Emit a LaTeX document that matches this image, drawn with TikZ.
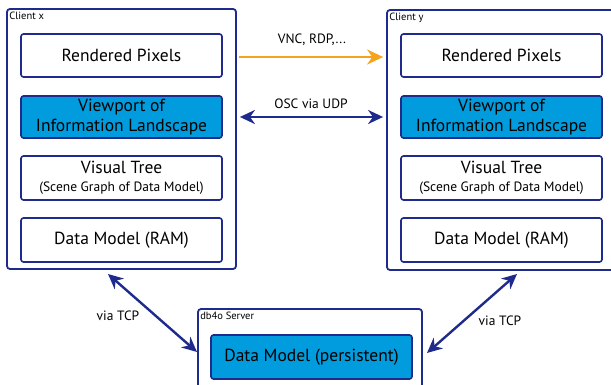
\documentclass[tikz,border=0pt]{standalone}
\usepackage{fontspec}
\setmainfont{PT Sans}
\usetikzlibrary{arrows.meta,calc}
\definecolor{navy}{HTML}{1E2A8C}
\definecolor{fillblue}{HTML}{009CDE}
\definecolor{arrorange}{HTML}{F5A31A}
\tikzset{
  outerbox/.style={draw=navy, line width=1.8pt, rounded corners=3pt, fill=white, inner sep=0pt},
  innerbox/.style={draw=navy, line width=1.6pt, rounded corners=2.5pt, fill=white, minimum width=201pt, inner sep=0pt, align=center, font=\fontsize{17.5}{20}\selectfont},
  bluebox/.style={innerbox, fill=fillblue},
  smalllbl/.style={font=\fontsize{10.5}{11}\selectfont, inner sep=0pt, anchor=north west},
  arrlbl/.style={font=\fontsize{13.5}{14}\selectfont, inner sep=0pt},
  navyarrow/.style={draw=navy, line width=2.4pt, {Stealth[length=15pt,width=14pt]}-{Stealth[length=15pt,width=14pt]}},
}
\newcommand{\subline}[1]{{\fontsize{13.5}{18}\selectfont #1}}
\begin{document}
\begin{tikzpicture}[x=1pt,y=-1pt]
\useasboundingbox (0,0) rectangle (611,385);
\clip (0,0) rectangle (611,385);
\fill[white] (0,0) rectangle (611,385);
% client x
\node[outerbox, minimum width=229pt, minimum height=260pt] (cx) at (121.5,139) {};
\node[smalllbl] (cxl) at ([xshift=3pt,yshift=-4pt]cx.north west) {Client x};
\node[innerbox, minimum height=43pt] (rpx) at (121.5,55.5) {Rendered Pixels};
\node[bluebox, minimum height=42pt] (vpx) at (121.5,117) {Viewport of\\Information Landscape};
\node[innerbox, minimum height=44pt] (vtx) at (121.5,178) {Visual Tree\\[-2pt]\subline{(Scene Graph of Data Model)}};
\node[innerbox, minimum height=44pt] (dmx) at (121.5,240) {Data Model (RAM)};
% client y
\node[outerbox, minimum width=229pt, minimum height=260pt] (cy) at (501.5,140) {};
\node[smalllbl] (cyl) at ([xshift=3pt,yshift=-4pt]cy.north west) {Client y};
\node[innerbox, minimum height=43pt] (rpy) at (501.5,55.5) {Rendered Pixels};
\node[bluebox, minimum height=42pt] (vpy) at (501.5,117) {Viewport of\\Information Landscape};
\node[innerbox, minimum height=44pt] (vty) at (501.5,178) {Visual Tree\\[-2pt]\subline{(Scene Graph of Data Model)}};
\node[innerbox, minimum height=44pt] (dmy) at (501.5,240) {Data Model (RAM)};
% server
\node[outerbox, minimum width=224pt, minimum height=100pt] (srv) at (310,359) {};
\node[smalllbl] (srvl) at ([xshift=3pt,yshift=-4pt]srv.north west) {db4o Server};
\node[bluebox, minimum height=44pt] (dms) at (311.5,357) {Data Model (persistent)};
% arrows
\draw[draw=arrorange, line width=2pt, -{Stealth[length=16pt,width=15pt]}] ([xshift=2pt]cx.east |- 0,57) coordinate (oa) -- ([xshift=-3pt]cy.west |- 0,57) coordinate (ob);
\node[arrlbl] (vnc) at (312,40) {VNC, RDP,...};
\draw[navyarrow] ([xshift=3pt]cx.east |- vpx.center) -- ([xshift=-3pt]cy.west |- vpy.center);
\node[arrlbl] (osc) at (311,104) {OSC via UDP};
\coordinate (tl1) at (108,274);
\coordinate (tl2) at (197,352);
\draw[navyarrow] (tl1) -- (tl2);
\node[arrlbl] (tcpl) at (118,316) {via TCP};
\coordinate (tr1) at (427,353);
\coordinate (tr2) at (517,274);
\draw[navyarrow] (tr1) -- (tr2);
\node[arrlbl] (tcpr) at (500,321) {via TCP};
\end{tikzpicture}
\end{document}
